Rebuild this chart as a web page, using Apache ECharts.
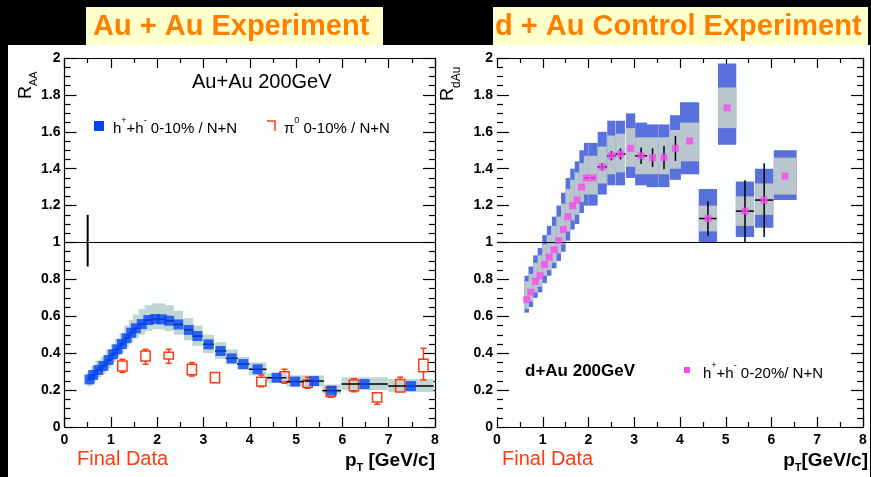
<!DOCTYPE html>
<html>
<head>
<meta charset="utf-8">
<script src="https://cdn.jsdelivr.net/npm/echarts@6/dist/echarts.min.js"></script>
<style>html,body{margin:0;padding:0;background:#000}#chart{width:871px;height:477px}</style>
</head>
<body>
<div id="chart"></div>
<script>
// Au+Au: h+h- 0-10% R_AA (blue squares + grey systematic band)
const auPt = [0.54, 0.62, 0.73, 0.84, 0.95, 1.05, 1.14, 1.24, 1.34, 1.44, 1.54, 1.67, 1.81, 1.96, 2.10, 2.26, 2.46, 2.68, 2.87, 3.11, 3.37, 3.61, 3.86, 4.17, 4.58, 4.98, 5.39, 5.77, 6.48, 7.48]
const auR = [0.258, 0.282, 0.309, 0.331, 0.363, 0.394, 0.421, 0.450, 0.481, 0.511, 0.535, 0.558, 0.580, 0.585, 0.584, 0.576, 0.556, 0.526, 0.493, 0.448, 0.412, 0.372, 0.341, 0.313, 0.267, 0.246, 0.249, 0.197, 0.233, 0.222]
const auSysLo = [0.22, 0.24, 0.27, 0.29, 0.32, 0.35, 0.38, 0.40, 0.43, 0.46, 0.48, 0.50, 0.52, 0.53, 0.53, 0.52, 0.50, 0.47, 0.44, 0.40, 0.37, 0.34, 0.31, 0.28, 0.24, 0.22, 0.22, 0.18, 0.20, 0.19]
const auSysHi = [0.30, 0.33, 0.36, 0.38, 0.42, 0.45, 0.48, 0.51, 0.55, 0.58, 0.61, 0.64, 0.66, 0.67, 0.67, 0.66, 0.63, 0.59, 0.55, 0.50, 0.46, 0.42, 0.38, 0.35, 0.29, 0.28, 0.28, 0.23, 0.27, 0.26]
const auHalfW = [0.05, 0.05, 0.06, 0.06, 0.06, 0.05, 0.05, 0.05, 0.05, 0.05, 0.06, 0.07, 0.08, 0.08, 0.08, 0.1, 0.1, 0.1, 0.11, 0.12, 0.12, 0.13, 0.13, 0.19, 0.21, 0.19, 0.21, 0.2, 0.5, 0.49]

// Au+Au: pi0 0-10% (open red boxes)
const pi0Pt = [1.25, 1.75, 2.25, 2.75, 3.25, 4.25, 4.75, 5.25, 5.75, 6.25, 6.75, 7.25, 7.75]
const pi0SysLo = [0.304, 0.358, 0.369, 0.283, 0.24, 0.222, 0.244, 0.215, 0.165, 0.197, 0.135, 0.19, 0.30]
const pi0SysHi = [0.358, 0.412, 0.405, 0.340, 0.295, 0.27, 0.30, 0.255, 0.215, 0.255, 0.186, 0.258, 0.367]
const pi0ErrLo = [0.296, 0.340, 0.345, 0.276, 0.24, 0.218, 0.237, 0.21, 0.161, 0.191, 0.123, 0.19, 0.255]
const pi0ErrHi = [0.367, 0.421, 0.421, 0.349, 0.295, 0.282, 0.313, 0.27, 0.218, 0.262, 0.186, 0.27, 0.427]

// normalisation bar at R = 1
const normBar = [0.5, 0.87, 1.15]

// d+Au: h+h- 0-20% R_dAu
const dauPt = [0.65, 0.74, 0.84, 0.94, 1.04, 1.14, 1.25, 1.35, 1.45, 1.55, 1.65, 1.75, 1.85, 1.95, 2.10, 2.30, 2.50, 2.70, 2.92, 3.15, 3.40, 3.65, 3.90, 4.21, 4.61, 5.03, 5.42, 5.84, 6.30]
const dauR = [0.69, 0.73, 0.79, 0.82, 0.88, 0.92, 0.96, 1.01, 1.07, 1.14, 1.20, 1.23, 1.30, 1.35, 1.35, 1.41, 1.47, 1.48, 1.51, 1.47, 1.46, 1.46, 1.51, 1.55, 1.13, 1.73, 1.17, 1.23, 1.36]
const dauHalfW = [0.05, 0.05, 0.05, 0.05, 0.05, 0.05, 0.05, 0.05, 0.05, 0.05, 0.05, 0.05, 0.05, 0.05, 0.1, 0.1, 0.09, 0.1, 0.1, 0.13, 0.13, 0.12, 0.12, 0.21, 0.2, 0.2, 0.2, 0.2, 0.25]
const dauOutLo = [0.62, 0.65, 0.70, 0.73, 0.78, 0.82, 0.86, 0.90, 0.95, 1.01, 1.07, 1.10, 1.16, 1.20, 1.20, 1.26, 1.31, 1.31, 1.35, 1.31, 1.30, 1.30, 1.34, 1.37, 1.00, 1.53, 1.03, 1.08, 1.23]
const dauOutHi = [0.82, 0.87, 0.93, 0.97, 1.04, 1.09, 1.14, 1.20, 1.27, 1.35, 1.40, 1.44, 1.50, 1.54, 1.54, 1.60, 1.66, 1.66, 1.70, 1.65, 1.64, 1.64, 1.69, 1.76, 1.29, 1.97, 1.33, 1.40, 1.50]
const dauInLo = [0.64, 0.68, 0.73, 0.76, 0.82, 0.85, 0.89, 0.94, 0.99, 1.06, 1.12, 1.15, 1.22, 1.26, 1.26, 1.32, 1.37, 1.38, 1.41, 1.37, 1.37, 1.37, 1.40, 1.44, 1.06, 1.62, 1.09, 1.15, 1.26]
const dauInHi = [0.79, 0.83, 0.89, 0.93, 0.99, 1.04, 1.09, 1.14, 1.21, 1.29, 1.34, 1.38, 1.43, 1.47, 1.47, 1.52, 1.58, 1.59, 1.62, 1.57, 1.57, 1.57, 1.61, 1.65, 1.20, 1.84, 1.25, 1.32, 1.46]
const dauErr = [0, 0, 0, 0, 0, 0, 0, 0, 0, 0, 0, 0, 0, 0, 0, 0.02, 0.025, 0.03, 0, 0.045, 0.05, 0.063, 0.068, 0, 0.094, 0, 0.168, 0.2, 0]
const dauXErr = [0, 0, 0, 0, 0, 0, 0, 0, 0, 0, 0, 0, 0, 0.05, 0.05, 0.1, 0.09, 0.11, 0, 0.13, 0, 0, 0, 0, 0.19, 0, 0.2, 0.2, 0]

const xTicks = [0, 8]
const yTicks = [0, 2]

const FONT = '"Liberation Sans", Arial, sans-serif'
const BLUE = '#0644f6'
const RED = '#ff3a12'
const MAGENTA = '#f948ef'

function boxRender(fill) {
    return function (params, api) {
        const x = api.value(0), hw = api.value(1), lo = api.value(2), hi = api.value(3)
        const a = api.coord([x - hw, hi])
        const b = api.coord([x + hw, lo])
        return {type: 'rect', shape: {x: a[0], y: a[1], width: b[0] - a[0], height: b[1] - a[1]}, style: {fill: fill}}
    }
}

function line(p, q, color, w) {
    return {type: 'line', shape: {x1: p[0], y1: p[1], x2: q[0], y2: q[1]}, style: {stroke: color, lineWidth: w}}
}

function errRender(color, w) {
    return function (params, api) {
        const x = api.value(0), y = api.value(1), ye = api.value(2), xe = api.value(3)
        const kids = []
        if (ye > 0) kids.push(line(api.coord([x, y - ye]), api.coord([x, y + ye]), color, w))
        if (xe > 0) kids.push(line(api.coord([x - xe, y]), api.coord([x + xe, y]), color, w))
        return {type: 'group', children: kids}
    }
}

function pi0Render(params, api) {
    const x = api.value(0), slo = api.value(1), shi = api.value(2), elo = api.value(3), ehi = api.value(4)
    const a = api.coord([x - 0.1, shi]), b = api.coord([x + 0.1, slo])
    const top = api.coord([x, ehi]), bot = api.coord([x, elo])
    const kids = [{type: 'rect', shape: {x: a[0], y: a[1], width: b[0] - a[0], height: b[1] - a[1]},
        style: {fill: 'none', stroke: RED, lineWidth: 1.5}}]
    if (top[1] < a[1] - 0.5) {
        kids.push(line([top[0], top[1]], [top[0], a[1]], RED, 1.5))
        kids.push(line([top[0] - 3, top[1]], [top[0] + 3, top[1]], RED, 1.5))
    }
    if (bot[1] > b[1] + 0.5) {
        kids.push(line([bot[0], b[1]], [bot[0], bot[1]], RED, 1.5))
        kids.push(line([bot[0] - 3, bot[1]], [bot[0] + 3, bot[1]], RED, 1.5))
    }
    return {type: 'group', children: kids}
}

function normRender(params, api) {
    return line(api.coord([api.value(0), api.value(1)]), api.coord([api.value(0), api.value(2)]), '#000', 2)
}

function xAxis(grid, pos, labels) {
    return {
        gridIndex: grid, type: 'value', position: pos, min: xTicks[0], max: xTicks[1], interval: 1,
        axisLine: {show: true, onZero: false, lineStyle: {color: '#000', width: 1.2}},
        axisTick: {show: true, inside: true, length: 10, lineStyle: {color: '#000', width: 1.2}},
        minorTick: {show: true, splitNumber: 2, length: 5, lineStyle: {color: '#000', width: 1.2}},
        splitLine: {show: false},
        axisLabel: {show: labels, color: '#000', fontFamily: FONT, fontWeight: 'bold', fontSize: 14, margin: 6}
    }
}

function yAxis(grid, pos, labels, showLine) {
    return {
        gridIndex: grid, type: 'value', position: pos, min: yTicks[0], max: yTicks[1], interval: 0.2,
        axisLine: {show: showLine, onZero: false, lineStyle: {color: '#000', width: 1.2}},
        axisTick: {show: true, inside: true, length: 12, lineStyle: {color: '#000', width: 1.2}},
        minorTick: {show: true, splitNumber: 4, length: 6, lineStyle: {color: '#000', width: 1.2}},
        splitLine: {show: false},
        axisLabel: {show: labels, color: '#000', fontFamily: FONT, fontWeight: 'bold', fontSize: 14, margin: 4}
    }
}

const unity = {
    silent: true, symbol: ['none', 'none'], animation: false,
    data: [{yAxis: 1}], label: {show: false},
    lineStyle: {color: '#000', width: 1, type: 'solid'}
}

function supRich(size) {
    return {
        t: {fontSize: size, fontFamily: FONT, fill: '#000', lineHeight: size + 5, verticalAlign: 'bottom'},
        s: {fontSize: Math.round(size * 0.62), fontFamily: FONT, fill: '#000', lineHeight: size + 5, verticalAlign: 'top'}
    }
}

function txt(x, y, text, font, fill, extra) {
    return Object.assign({type: 'text', x: x, y: y, z: 10,
        style: {text: text, font: font, fill: fill, align: 'left', verticalAlign: 'middle'}}, extra || {})
}

const graphics = [
    {type: 'rect', z: -10, shape: {x: 8, y: 45, width: 862, height: 432}, style: {fill: '#fcfefe'}},
    {type: 'rect', z: -10, shape: {x: 86, y: 7, width: 297, height: 38}, style: {fill: '#ffffcc'}},
    {type: 'rect', z: -10, shape: {x: 493, y: 7, width: 375, height: 38}, style: {fill: '#ffffcc'}},
    txt(93, 27, 'Au + Au Experiment', 'bold 29px ' + FONT, '#ff7f00'),
    txt(495, 27, 'd + Au Control Experiment', 'bold 29px ' + FONT, '#ff7f00'),
    txt(77, 459, 'Final Data', '20px ' + FONT, RED),
    txt(502, 459, 'Final Data', '20px ' + FONT, RED),
    {type: 'text', x: 435, y: 462, z: 10, style: {text: '{p|p}{s|T}{p| [GeV/c]}', align: 'right', verticalAlign: 'middle',
        rich: {p: {font: 'bold 19px ' + FONT, fill: '#000', lineHeight: 22, verticalAlign: 'top'},
            s: {font: 'bold 11px ' + FONT, fill: '#000', lineHeight: 22, verticalAlign: 'bottom'}}}},
    {type: 'text', x: 868, y: 462, z: 10, style: {text: '{p|p}{s|T}{p|[GeV/c]}', align: 'right', verticalAlign: 'middle',
        rich: {p: {font: 'bold 19px ' + FONT, fill: '#000', lineHeight: 22, verticalAlign: 'top'},
            s: {font: 'bold 11px ' + FONT, fill: '#000', lineHeight: 22, verticalAlign: 'bottom'}}}},
    {type: 'text', x: 28, y: 99, rotation: Math.PI / 2, z: 10, style: {text: '{r|R}{s|AA}', align: 'left', verticalAlign: 'middle',
        rich: {r: {font: '18px ' + FONT, fill: '#000', lineHeight: 22, verticalAlign: 'top'},
            s: {font: '11px ' + FONT, fill: '#000', lineHeight: 22, verticalAlign: 'bottom'}}}},
    {type: 'text', x: 451, y: 101, rotation: Math.PI / 2, z: 10, style: {text: '{r|R}{s|dAu}', align: 'left', verticalAlign: 'middle',
        rich: {r: {font: '18px ' + FONT, fill: '#000', lineHeight: 24, verticalAlign: 'top'},
            s: {font: '12px ' + FONT, fill: '#000', lineHeight: 24, verticalAlign: 'bottom'}}}},
    txt(192, 82, 'Au+Au 200GeV', '20px ' + FONT, '#000'),
    txt(525, 371, 'd+Au 200GeV', 'bold 17px ' + FONT, '#000'),
    {type: 'rect', z: 10, shape: {x: 94, y: 121, width: 10, height: 10}, style: {fill: BLUE}},
    {type: 'text', x: 113, y: 126, z: 10, style: {text: '{t|h}{s|+}{t|+h}{s|-}{t| 0-10% / N+N}', align: 'left', verticalAlign: 'middle', rich: supRich(15)}},
    {type: 'polyline', z: 10, shape: {points: [[267, 121], [275, 121], [275, 131]]}, style: {stroke: RED, lineWidth: 1.5, fill: 'none'}},
    {type: 'text', x: 284, y: 126, z: 10, style: {text: '{t|π}{s|0}{t| 0-10% / N+N}', align: 'left', verticalAlign: 'middle', rich: supRich(15)}},
    {type: 'rect', z: 10, shape: {x: 684, y: 367, width: 6, height: 6}, style: {fill: MAGENTA}},
    {type: 'text', x: 703, y: 371, z: 10, style: {text: '{t|h}{s|+}{t|+h}{s|-}{t| 0-20%/ N+N}', align: 'left', verticalAlign: 'middle', rich: supRich(15)}}
]

const option = {
    backgroundColor: '#000',
    animation: false,
    grid: [
        {left: 64.5, top: 58, width: 370.5, height: 369},
        {left: 497, top: 58, width: 366, height: 369}
    ],
    xAxis: [xAxis(0, 'bottom', true), xAxis(0, 'top', false), xAxis(1, 'bottom', true), xAxis(1, 'top', false)],
    yAxis: [yAxis(0, 'left', true, true), yAxis(0, 'right', false, true), yAxis(1, 'left', true, false), yAxis(1, 'right', false, true)],
    graphic: {elements: graphics},
    series: [
        {
            type: 'custom', xAxisIndex: 0, yAxisIndex: 0, z: 2, renderItem: boxRender('#bed7d2'),
            encode: {x: 0, y: 2},
            data: auPt.map((p, i) => [p, auHalfW[i], auSysLo[i], auSysHi[i]]),
            markLine: unity
        },
        {
            type: 'custom', xAxisIndex: 0, yAxisIndex: 0, z: 3, renderItem: pi0Render,
            encode: {x: 0, y: 1},
            data: pi0Pt.map((p, i) => [p, pi0SysLo[i], pi0SysHi[i], pi0ErrLo[i], pi0ErrHi[i]])
        },
        {
            type: 'custom', xAxisIndex: 0, yAxisIndex: 0, z: 4, renderItem: errRender('#000', 1.5),
            encode: {x: 0, y: 1},
            data: auPt.map((p, i) => [p, auR[i], 0, auHalfW[i]])
        },
        {
            type: 'custom', xAxisIndex: 0, yAxisIndex: 0, z: 4, renderItem: normRender,
            encode: {x: 0, y: 1},
            data: [normBar]
        },
        {
            type: 'scatter', xAxisIndex: 0, yAxisIndex: 0, z: 5, symbol: 'rect', symbolSize: 10,
            itemStyle: {color: BLUE}, data: auPt.map((p, i) => [p, auR[i]])
        },
        {
            type: 'custom', xAxisIndex: 2, yAxisIndex: 2, z: 2, renderItem: boxRender('#5871db'),
            encode: {x: 0, y: 2},
            data: dauPt.map((p, i) => [p, dauHalfW[i], dauOutLo[i], dauOutHi[i]]),
            markLine: unity
        },
        {
            type: 'custom', xAxisIndex: 2, yAxisIndex: 2, z: 3, renderItem: boxRender('#b9c6ce'),
            encode: {x: 0, y: 2},
            data: dauPt.map((p, i) => [p, dauHalfW[i], dauInLo[i], dauInHi[i]])
        },
        {
            type: 'custom', xAxisIndex: 2, yAxisIndex: 2, z: 4, renderItem: errRender('#000', 1.5),
            encode: {x: 0, y: 1},
            data: dauPt.map((p, i) => [p, dauR[i], dauErr[i], dauXErr[i]])
        },
        {
            type: 'scatter', xAxisIndex: 2, yAxisIndex: 2, z: 5, symbol: 'rect', symbolSize: 7,
            itemStyle: {color: MAGENTA}, data: dauPt.map((p, i) => [p, dauR[i]])
        }
    ]
}

const chart = echarts.init(document.getElementById('chart'))
chart.setOption(option)
</script>
</body>
</html>
